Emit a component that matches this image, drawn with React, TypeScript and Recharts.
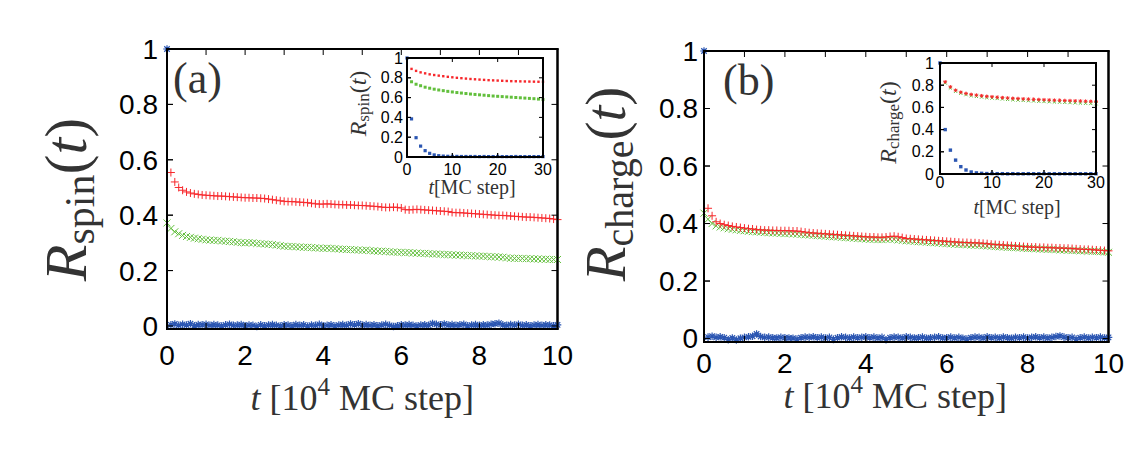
import React from "react";
import { ScatterChart, Scatter, XAxis, YAxis, Label } from "recharts";

// long runs: t in units of 10^4 MC steps, sampled every 0.1
const MAIN_STEP = 0.1;

const SPIN_RED = [
  0.554, 0.52, 0.5, 0.49, 0.484, 0.48, 0.477, 0.475, 0.473, 0.472,
  0.471, 0.47, 0.469, 0.469, 0.468, 0.467, 0.466, 0.465, 0.464, 0.463,
  0.463, 0.462, 0.462, 0.461, 0.46, 0.458, 0.456, 0.454, 0.452, 0.45,
  0.449, 0.449, 0.448, 0.447, 0.446, 0.445, 0.443, 0.441, 0.44, 0.44,
  0.441, 0.44, 0.439, 0.438, 0.438, 0.437, 0.437, 0.436, 0.435, 0.435,
  0.434, 0.433, 0.432, 0.431, 0.429, 0.428, 0.428, 0.429, 0.428, 0.426,
  0.42, 0.419, 0.42, 0.421, 0.42, 0.419, 0.418, 0.417, 0.416, 0.415,
  0.414, 0.413, 0.41, 0.409, 0.409, 0.408, 0.407, 0.406, 0.405, 0.404,
  0.403, 0.402, 0.401, 0.4, 0.399, 0.399, 0.398, 0.397, 0.396, 0.395,
  0.394, 0.393, 0.393, 0.392, 0.391, 0.39, 0.389, 0.388, 0.386, 0.384,
];

const SPIN_GREEN = [
  0.372, 0.352, 0.34, 0.333, 0.327, 0.323, 0.32, 0.317, 0.315, 0.313, 0.311,
  0.31, 0.309, 0.309, 0.307, 0.306, 0.305, 0.304, 0.302, 0.301, 0.3,
  0.301, 0.3, 0.298, 0.297, 0.296, 0.295, 0.294, 0.292, 0.29, 0.288,
  0.287, 0.287, 0.286, 0.285, 0.284, 0.284, 0.283, 0.282, 0.281, 0.28,
  0.281, 0.28, 0.279, 0.278, 0.277, 0.276, 0.276, 0.275, 0.274, 0.273,
  0.274, 0.272, 0.271, 0.27, 0.27, 0.269, 0.268, 0.267, 0.266, 0.266,
  0.265, 0.265, 0.264, 0.263, 0.262, 0.262, 0.261, 0.26, 0.26, 0.259,
  0.258, 0.258, 0.257, 0.256, 0.256, 0.255, 0.254, 0.254, 0.253, 0.252,
  0.252, 0.251, 0.25, 0.25, 0.249, 0.248, 0.246, 0.245, 0.244, 0.244,
  0.244, 0.243, 0.243, 0.242, 0.242, 0.241, 0.241, 0.24, 0.24, 0.24,
];

const SPIN_BLUE = [
  1.0,
  0.004, 0.007, 0.002, 0.006, 0.003, 0.008, 0.001, 0.005, 0.004, 0.006,
  0.002, 0.005, 0.003, 0.0, 0.004, 0.006, 0.002, 0.003, 0.005, 0.001,
  0.003, 0.002, -0.002, 0.004, 0.001, 0.003, 0.005, 0.002, 0.0, 0.004,
  0.003, 0.001, 0.005, 0.002, 0.004, -0.001, 0.003, 0.002, 0.006, 0.001,
  0.002, 0.004, 0.0, 0.003, 0.005, 0.002, 0.007, 0.004, 0.008, 0.003,
  0.005, 0.002, 0.004, 0.001, 0.003, 0.006, 0.002, -0.002, 0.001, 0.004,
  0.003, 0.005, 0.002, 0.0, 0.003, 0.004, 0.002, 0.009, 0.006, 0.004,
  0.007, 0.003, 0.005, 0.002, 0.004, 0.006, 0.001, 0.003, 0.005, 0.002,
  0.004, 0.003, 0.006, 0.008, 0.01, 0.004, 0.002, 0.005, 0.003, 0.006,
  0.002, 0.004, 0.001, 0.003, 0.005, 0.002, 0.004, 0.003, 0.001, 0.004,
];

const CHARGE_RED = [
  0.453, 0.427, 0.406, 0.4, 0.396, 0.393, 0.39, 0.388, 0.386, 0.384,
  0.382, 0.381, 0.379, 0.378, 0.377, 0.377, 0.376, 0.376, 0.375, 0.375,
  0.375, 0.374, 0.374, 0.372, 0.37, 0.368, 0.367, 0.366, 0.365, 0.364,
  0.363, 0.362, 0.361, 0.36, 0.359, 0.358, 0.357, 0.356, 0.355, 0.354,
  0.353, 0.353, 0.352, 0.352, 0.353, 0.355, 0.356, 0.354, 0.351, 0.348,
  0.347, 0.346, 0.345, 0.344, 0.343, 0.342, 0.341, 0.34, 0.339, 0.338,
  0.337, 0.336, 0.335, 0.334, 0.334, 0.333, 0.333, 0.332, 0.331, 0.33,
  0.328, 0.327, 0.326, 0.325, 0.324, 0.323, 0.322, 0.321, 0.32, 0.319,
  0.318, 0.318, 0.317, 0.317, 0.316, 0.316, 0.315, 0.315, 0.314, 0.314,
  0.313, 0.312, 0.311, 0.31, 0.31, 0.309, 0.308, 0.307, 0.306, 0.305,
];

const CHARGE_GREEN = [
  0.436, 0.415, 0.4, 0.392, 0.388, 0.385, 0.382, 0.38, 0.378, 0.376, 0.375,
  0.373, 0.372, 0.371, 0.37, 0.369, 0.368, 0.367, 0.367, 0.366, 0.365,
  0.365, 0.364, 0.363, 0.362, 0.361, 0.36, 0.359, 0.358, 0.357, 0.356,
  0.355, 0.354, 0.353, 0.352, 0.351, 0.35, 0.349, 0.348, 0.347, 0.346,
  0.345, 0.345, 0.344, 0.344, 0.345, 0.346, 0.345, 0.343, 0.341, 0.34,
  0.339, 0.338, 0.337, 0.336, 0.335, 0.334, 0.333, 0.332, 0.331, 0.33,
  0.329, 0.328, 0.327, 0.327, 0.326, 0.325, 0.325, 0.324, 0.323, 0.322,
  0.321, 0.32, 0.319, 0.318, 0.317, 0.317, 0.316, 0.315, 0.314, 0.313,
  0.313, 0.312, 0.311, 0.311, 0.31, 0.31, 0.309, 0.308, 0.308, 0.307,
  0.306, 0.306, 0.305, 0.305, 0.304, 0.303, 0.303, 0.302, 0.301, 0.3,
];

const CHARGE_BLUE = [
  1.0,
  0.005, 0.008, 0.004, 0.006, 0.003, -0.004, 0.002, -0.005, 0.001, 0.004,
  0.006, 0.008, 0.016, 0.007, 0.004, 0.005, 0.003, 0.002, 0.004, 0.003,
  0.002, 0.001, -0.002, 0.003, 0.005, 0.004, 0.006, 0.003, 0.005, 0.002,
  0.004, -0.003, 0.003, 0.006, 0.004, 0.002, 0.005, 0.003, 0.004, 0.006,
  0.003, 0.005, 0.002, 0.004, -0.004, 0.003, 0.005, 0.004, 0.002, 0.006,
  0.004, 0.002, 0.003, 0.005, 0.001, 0.003, 0.004, 0.006, 0.002, 0.003,
  0.005, 0.002, 0.004, 0.001, -0.002, 0.003, 0.005, 0.004, 0.002, 0.006,
  0.003, 0.004, 0.002, 0.005, 0.003, 0.001, 0.004, 0.003, 0.005, 0.002,
  0.004, 0.006, 0.003, 0.005, 0.002, 0.004, 0.007, 0.009, 0.005, 0.003,
  0.004, -0.002, 0.003, 0.005, 0.002, 0.004, 0.003, 0.005, 0.002, 0.004,
];

// short runs for the insets: t in MC steps
const SPIN_INSET_RED = [
  0.89, 0.87, 0.855, 0.845, 0.835, 0.828, 0.822, 0.816, 0.81, 0.805,
  0.8, 0.796, 0.792, 0.788, 0.785, 0.782, 0.779, 0.776, 0.774, 0.772,
  0.77, 0.768, 0.766, 0.765, 0.764, 0.763, 0.762, 0.761, 0.76, 0.76,
];
const SPIN_INSET_GREEN = [
  0.76, 0.735, 0.72, 0.705, 0.695, 0.685, 0.677, 0.67, 0.663, 0.657,
  0.651, 0.646, 0.641, 0.636, 0.632, 0.628, 0.624, 0.62, 0.616, 0.613,
  0.61, 0.607, 0.604, 0.601, 0.598, 0.595, 0.592, 0.589, 0.585, 0.58,
];
const SPIN_INSET_BLUE = [
  1.0, 0.385, 0.195, 0.11, 0.064, 0.037, 0.021, 0.013, 0.009, 0.007, 0.006,
  0.006, 0.005, 0.005, 0.005, 0.005, 0.004, 0.005, 0.004, 0.004, 0.005,
  0.004, 0.004, 0.004, 0.005, 0.004, 0.004, 0.004, 0.004, 0.004, 0.004,
];
const CHARGE_INSET_RED = [
  0.83, 0.785, 0.755, 0.737, 0.726, 0.717, 0.711, 0.705, 0.7, 0.696,
  0.692, 0.688, 0.685, 0.682, 0.68, 0.677, 0.675, 0.673, 0.671, 0.669,
  0.667, 0.665, 0.664, 0.662, 0.661, 0.659, 0.658, 0.656, 0.655, 0.653,
];
const CHARGE_INSET_GREEN = [
  0.82, 0.775, 0.745, 0.727, 0.715, 0.706, 0.699, 0.693, 0.688, 0.684,
  0.68, 0.676, 0.672, 0.669, 0.666, 0.663, 0.66, 0.658, 0.655, 0.653,
  0.651, 0.649, 0.647, 0.645, 0.643, 0.641, 0.639, 0.637, 0.635, 0.633,
];
const CHARGE_INSET_BLUE = [
  1.0, 0.4, 0.215, 0.125, 0.066, 0.036, 0.018, 0.01, 0.006, 0.004, 0.004,
  0.003, 0.003, 0.002, 0.003, 0.002, 0.002, 0.003, 0.002, 0.002, 0.003,
  0.002, 0.002, 0.002, 0.003, 0.002, 0.002, 0.002, 0.002, 0.002, 0.002,
];

const MAIN_X_TICKS = [0, 1, 2, 3, 4, 5, 6, 7, 8, 9, 10];
const Y_TICKS = [0, 0.2, 0.4, 0.6, 0.8, 1];
const INSET_X_TICKS = [0, 10, 20, 30];

const RED = "#f7282c";
const GREEN = "#62bf3c";
const BLUE = "#2b56b2";
const TITLE = "#333";
const SANS = "'Liberation Sans', Arial, sans-serif";
const SERIF = "'Liberation Serif', 'Times New Roman', serif";

type Pt = { t: number; v: number };
const toPoints = (vals: number[], t0: number, dt: number): Pt[] =>
  vals.map((v, i) => ({ t: t0 + i * dt, v }));

// ─── marker shapes ───────────────────────────────────────────────────────────
const plusMark = (color: string, r: number) => (p: any) => (
  <path
    d={`M${p.cx - r} ${p.cy}H${p.cx + r}M${p.cx} ${p.cy - r}V${p.cy + r}`}
    stroke={color}
    strokeWidth={1}
    fill="none"
  />
);
const crossMark = (color: string, r: number) => (p: any) => (
  <path
    d={`M${p.cx - r} ${p.cy - r}L${p.cx + r} ${p.cy + r}M${p.cx - r} ${p.cy + r}L${p.cx + r} ${p.cy - r}`}
    stroke={color}
    strokeWidth={1}
    fill="none"
  />
);
const starMark = (color: string, r: number, w = 1) => (p: any) => {
  const d = r * 0.72;
  return (
    <path
      d={`M${p.cx - r} ${p.cy}H${p.cx + r}M${p.cx} ${p.cy - r}V${p.cy + r}M${p.cx - d} ${p.cy - d}L${p.cx + d} ${p.cy + d}M${p.cx - d} ${p.cy + d}L${p.cx + d} ${p.cy - d}`}
      stroke={color}
      strokeWidth={w}
      fill="none"
    />
  );
};
const squareMark = (color: string, s: number) => (p: any) => (
  <rect x={p.cx - s / 2} y={p.cy - s / 2} width={s} height={s} fill={color} />
);

type Series = { key: string; data: Pt[]; shape: (p: any) => React.ReactElement };

// ─── axis titles ─────────────────────────────────────────────────────────────
function RTitle({ x, y, sub, size, subSize }: { x: number; y: number; sub: string; size: number; subSize: number }) {
  const drop = size * 0.14;
  return (
    <text
      x={x}
      y={y}
      transform={`rotate(-90 ${x} ${y})`}
      textAnchor="middle"
      fontFamily={SERIF}
      fontSize={size}
      fill={TITLE}
    >
      <tspan fontStyle="italic">R</tspan>
      <tspan fontSize={subSize} dy={drop}>{sub}</tspan>
      <tspan dy={-drop}>{"("}</tspan>
      <tspan fontStyle="italic">t</tspan>
      <tspan>{")"}</tspan>
    </text>
  );
}

type PanelProps = {
  left: number;
  top: number;
  width: number;
  height: number;
  bands: { top: number; right: number; bottom: number; left: number };
  xDomain: [number, number];
  yDomain: [number, number];
  xTicks: number[];
  xTickFmt: (v: number) => string;
  tickSize: number;
  tickFont: number;
  xTickMargin: number;
  yTickMargin: number;
  sub: string;
  rSize: number;
  rSubSize: number;
  rPos: [number, number];
  xTitle: (x: number, y: number) => React.ReactElement;
  xTitlePos: [number, number];
  letter?: string;
  letterPos?: [number, number];
  series: Series[];
};

// Box round the plot with inward ticks, anchored at the (xmin, ymax) corner
// that the chart's own scales place; drawn from filled strips.
const boxMark = (p: PanelProps) => (sp: any) => {
  const w = p.width - p.bands.left - p.bands.right;
  const h = p.height - p.bands.top - p.bands.bottom;
  const x0 = sp.cx;
  const y0 = sp.cy;
  const k = p.tickSize;
  const [dx0, dx1] = p.xDomain;
  const [dy0, dy1] = p.yDomain;
  const strips: React.ReactElement[] = [];
  p.xTicks.forEach((t, i) => {
    const x = x0 + ((t - dx0) / (dx1 - dx0)) * w;
    strips.push(<rect key={`xt${i}`} x={x - 0.5} y={y0} width={1} height={k} fill="#000" />);
    strips.push(<rect key={`xb${i}`} x={x - 0.5} y={y0 + h - k} width={1} height={k} fill="#000" />);
  });
  Y_TICKS.forEach((v, i) => {
    const y = y0 + h - ((v - dy0) / (dy1 - dy0)) * h;
    strips.push(<rect key={`yl${i}`} x={x0} y={y - 0.5} width={k} height={1} fill="#000" />);
    strips.push(<rect key={`yr${i}`} x={x0 + w - k} y={y - 0.5} width={k} height={1} fill="#000" />);
  });
  return (
    <g>
      {strips}
      <rect x={x0 - 1} y={y0 - 1} width={w + 2} height={2} fill="#000" />
      <rect x={x0 - 1} y={y0 + h - 1} width={w + 2} height={2} fill="#000" />
      <rect x={x0 - 1} y={y0 - 1} width={2} height={h + 2} fill="#000" />
      <rect x={x0 + w - 1} y={y0 - 1} width={2} height={h + 2} fill="#000" />
    </g>
  );
};

function Panel(p: PanelProps) {
  const tickStyle = { fill: "#000", fontSize: p.tickFont, fontFamily: SANS };
  const axisLine = { stroke: "#000", strokeWidth: 2 };
  const tickLine = { stroke: "#000", strokeWidth: 1 };
  const plotH = p.height - p.bands.top - p.bands.bottom;
  const corner = [{ t: p.xDomain[0], v: p.yDomain[1] }];
  return (
    <div style={{ position: "absolute", left: p.left, top: p.top }}>
      <ScatterChart width={p.width} height={p.height} margin={{ top: 0, right: 0, bottom: 0, left: 0 }}>
        <XAxis
          dataKey="t"
          type="number"
          domain={p.xDomain}
          ticks={p.xTicks}
          tickFormatter={p.xTickFmt}
          height={p.bands.bottom}
          axisLine={axisLine}
          tickLine={tickLine}
          tickSize={-p.tickSize}
          tickMargin={p.xTickMargin}
          tick={tickStyle}
          interval={0}
        >
          <Label
            content={(lp: any) => {
              const vb = lp.viewBox;
              return (
                <g>
                  {p.xTitle(vb.x + vb.width / 2 + p.xTitlePos[0], vb.y + p.xTitlePos[1])}
                  {p.letter && p.letterPos ? (
                    <text
                      x={vb.x + p.letterPos[0]}
                      y={vb.y - plotH + p.letterPos[1]}
                      fontFamily={SERIF}
                      fontSize={44}
                      fill={TITLE}
                    >
                      {p.letter}
                    </text>
                  ) : null}
                </g>
              );
            }}
          />
        </XAxis>
        <XAxis
          xAxisId="top"
          orientation="top"
          type="number"
          domain={p.xDomain}
          ticks={p.xTicks}
          height={p.bands.top}
          axisLine={axisLine}
          tickLine={tickLine}
          tickSize={-p.tickSize}
          tick={false}
          interval={0}
        />
        <YAxis
          dataKey="v"
          type="number"
          domain={p.yDomain}
          ticks={Y_TICKS}
          width={p.bands.left}
          axisLine={axisLine}
          tickLine={tickLine}
          tickSize={-p.tickSize}
          tickMargin={p.yTickMargin}
          tick={tickStyle}
          interval={0}
        >
          <Label
            content={(lp: any) => {
              const vb = lp.viewBox;
              return (
                <RTitle
                  x={vb.x + p.rPos[0]}
                  y={vb.y + vb.height / 2 + p.rPos[1]}
                  sub={p.sub}
                  size={p.rSize}
                  subSize={p.rSubSize}
                />
              );
            }}
          />
        </YAxis>
        <YAxis
          yAxisId="right"
          orientation="right"
          type="number"
          domain={p.yDomain}
          ticks={Y_TICKS}
          width={p.bands.right}
          axisLine={axisLine}
          tickLine={tickLine}
          tickSize={-p.tickSize}
          tick={false}
          interval={0}
        />
        {p.series.map((s) => (
          <Scatter key={s.key} data={s.data} shape={s.shape} isAnimationActive={false} />
        ))}
        <Scatter key="box" data={corner} shape={boxMark(p)} isAnimationActive={false} />
      </ScatterChart>
    </div>
  );
}

const mainXTitle = (x: number, y: number) => (
  <text x={x} y={y} textAnchor="middle" fontFamily={SERIF} fontSize={36} fill={TITLE}>
    <tspan fontStyle="italic">t</tspan>
    <tspan>{" [10"}</tspan>
    <tspan fontSize={25} dy={-15}>4</tspan>
    <tspan dy={15}>{" MC step]"}</tspan>
  </text>
);

const insetXTitle = (x: number, y: number) => (
  <text x={x} y={y} textAnchor="middle" fontFamily={SERIF} fontSize={20} fill={TITLE}>
    <tspan fontStyle="italic">t</tspan>
    <tspan>{"[MC step]"}</tspan>
  </text>
);

const evenOnly = (v: number) => (v % 2 === 0 ? String(v) : "");
const plain = (v: number) => String(v);

export default function App() {
  const spinMain: Series[] = [
    { key: "blue", data: toPoints(SPIN_BLUE, 0, MAIN_STEP), shape: starMark(BLUE, 3.8, 1.2) },
    { key: "green", data: toPoints(SPIN_GREEN, 0, MAIN_STEP), shape: crossMark(GREEN, 3.5) },
    { key: "red", data: toPoints(SPIN_RED, MAIN_STEP, MAIN_STEP), shape: plusMark(RED, 4) },
  ];
  const chargeMain: Series[] = [
    { key: "blue", data: toPoints(CHARGE_BLUE, 0, MAIN_STEP), shape: starMark(BLUE, 3.8, 1.2) },
    { key: "green", data: toPoints(CHARGE_GREEN, 0, MAIN_STEP), shape: crossMark(GREEN, 3.5) },
    { key: "red", data: toPoints(CHARGE_RED, MAIN_STEP, MAIN_STEP), shape: plusMark(RED, 4) },
  ];
  const spinInset: Series[] = [
    { key: "blue", data: toPoints(SPIN_INSET_BLUE, 0, 1), shape: squareMark(BLUE, 3.2) },
    { key: "green", data: toPoints(SPIN_INSET_GREEN, 1, 1), shape: squareMark(GREEN, 3) },
    { key: "red", data: toPoints(SPIN_INSET_RED, 1, 1), shape: squareMark(RED, 2.4) },
  ];
  const chargeInset: Series[] = [
    { key: "blue", data: toPoints(CHARGE_INSET_BLUE, 0, 1), shape: squareMark(BLUE, 3.4) },
    { key: "green", data: toPoints(CHARGE_INSET_GREEN, 1, 1), shape: crossMark(GREEN, 1.6) },
    { key: "red", data: toPoints(CHARGE_INSET_RED, 1, 1), shape: starMark(RED, 1.8) },
  ];

  return (
    <div style={{ position: "absolute", left: 0, top: 0, width: 1148, height: 467, background: "#fff" }}>
      {/* (a) spin */}
      <Panel
        left={0}
        top={0}
        width={580}
        height={467}
        bands={{ top: 49, right: 22.5, bottom: 138, left: 167 }}
        xDomain={[0, 10]}
        yDomain={[-0.011, 1]}
        xTicks={MAIN_X_TICKS}
        xTickFmt={evenOnly}
        tickSize={6}
        tickFont={28}
        xTickMargin={22}
        yTickMargin={15}
        sub="spin"
        rSize={60}
        rSubSize={42}
        rPos={[86, 10.5]}
        xTitle={mainXTitle}
        xTitlePos={[0, 81]}
        letter="(a)"
        letterPos={[6, 44]}
        series={spinMain}
      />
      <Panel
        left={330}
        top={50}
        width={225}
        height={160}
        bands={{ top: 8, right: 12, bottom: 53, left: 77 }}
        xDomain={[0, 30]}
        yDomain={[0, 1]}
        xTicks={INSET_X_TICKS}
        xTickFmt={plain}
        tickSize={4}
        tickFont={16}
        xTickMargin={10.5}
        yTickMargin={8}
        sub="spin"
        rSize={24}
        rSubSize={17}
        rPos={[36, -4]}
        xTitle={insetXTitle}
        xTitlePos={[-3, 37]}
        series={spinInset}
      />
      {/* (b) charge */}
      <Panel
        left={555}
        top={0}
        width={593}
        height={467}
        bands={{ top: 51, right: 39.5, bottom: 125, left: 149 }}
        xDomain={[0, 10]}
        yDomain={[-0.012, 1]}
        xTicks={MAIN_X_TICKS}
        xTickFmt={evenOnly}
        tickSize={6}
        tickFont={28}
        xTickMargin={17}
        yTickMargin={12}
        sub="charge"
        rSize={57}
        rSubSize={40}
        rPos={[70, -12.5]}
        xTitle={mainXTitle}
        xTitlePos={[-11, 66]}
        letter="(b)"
        letterPos={[19, 44]}
        series={chargeMain}
      />
      <Panel
        left={860}
        top={55}
        width={250}
        height={170}
        bands={{ top: 8, right: 14, bottom: 51, left: 80 }}
        xDomain={[0, 30]}
        yDomain={[0, 1]}
        xTicks={INSET_X_TICKS}
        xTickFmt={plain}
        tickSize={4}
        tickFont={16}
        xTickMargin={6.5}
        yTickMargin={10}
        sub="charge"
        rSize={24}
        rSubSize={17}
        rPos={[36, 4]}
        xTitle={insetXTitle}
        xTitlePos={[-1, 40]}
        series={chargeInset}
      />
    </div>
  );
}
